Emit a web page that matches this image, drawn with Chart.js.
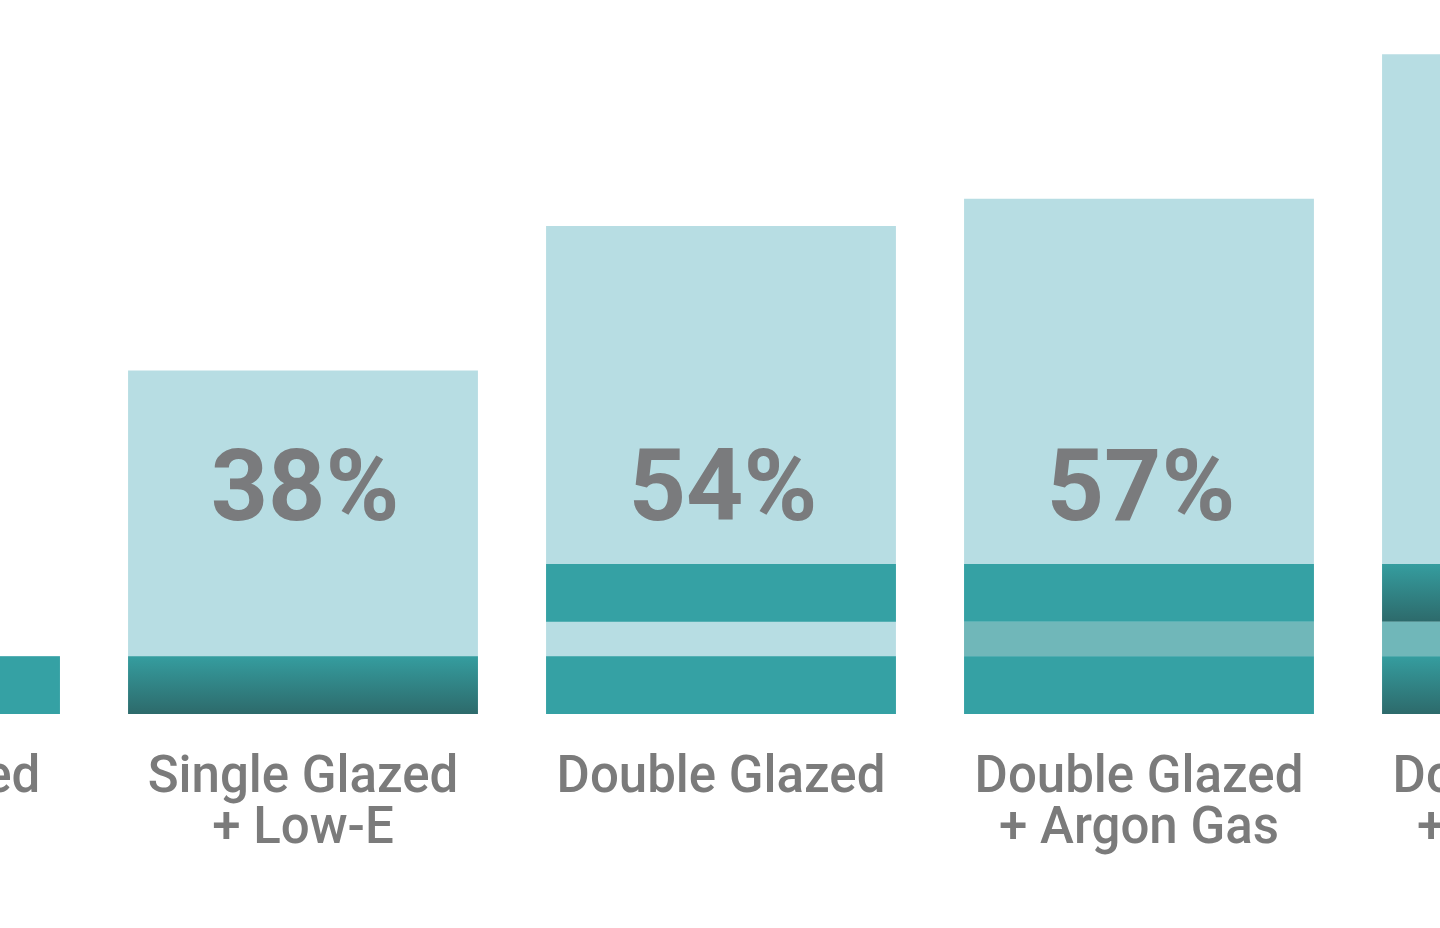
<!DOCTYPE html>
<html>
<head>
<meta charset="utf-8">
<script src="https://cdn.jsdelivr.net/npm/chart.js@4.4.1/dist/chart.umd.min.js"></script>
<style>
    html, body { margin: 0; padding: 0; background: #fff; overflow: hidden; width: 1440px; height: 928px; }
    #chart { position: absolute; left: -324px; top: 0; }
</style>
</head>
<body>
<canvas id="chart" width="2090" height="928"></canvas>
<script>
// window types, left to right (first and last are cut off by the frame)
const labels = [
    ["Single Glazed"],
    ["Single Glazed", "+ Low-E"],
    ["Double Glazed"],
    ["Double Glazed", "+ Argon Gas"],
    ["Double Glazed", "+ Argon Gas", "+ Low-E"]
]
// energy saving, %
const savings = [6.4, 38, 54, 57, 73]
const savingLabels = ["", "38%", "54%", "57%", "73%"]
// glass layers drawn inside each bar (same units as savings)
const innerPane = [[0, 6.4], [0, 6.4], [0, 6.4], [0, 6.4], [0, 6.4]]
const gasGap = [null, null, null, [6.4, 10.2], [6.4, 10.2]]
const outerPane = [null, null, [10.2, 16.6], [10.2, 16.6], [10.2, 16.6]]
const lowE = [false, true, false, false, true]

const teal = "#35a1a4"

function paneColor(ctx) {
    const chart = ctx.chart
    if (!lowE[ctx.dataIndex] || !chart.chartArea || !ctx.raw) return teal
    const y = chart.scales.y
    const top = y.getPixelForValue(ctx.raw[1])
    const bottom = y.getPixelForValue(ctx.raw[0])
    const g = chart.ctx.createLinearGradient(0, top, 0, bottom)
    g.addColorStop(0, "#359d9f")
    g.addColorStop(1, "#2d6a6b")
    return g
}

const percentLabels = {
    id: "percentLabels",
    afterDatasetsDraw(chart) {
        const ctx = chart.ctx
        const x = chart.scales.x
        const y = chart.scales.y
        ctx.save()
        ctx.font = "bold 100px Roboto"
        ctx.fillStyle = "#7a7b7d"
        ctx.textAlign = "center"
        ctx.textBaseline = "alphabetic"
        for (let i = 0; i < savingLabels.length; i++) {
            ctx.fillText(savingLabels[i], x.getPixelForValue(i) + 2, y.getPixelForValue(21.5))
        }
        ctx.restore()
    }
}

const common = { grouped: false, barPercentage: 1, categoryPercentage: 0.837, borderWidth: 0 }

new Chart(document.getElementById("chart"), {
    type: "bar",
    data: {
        labels: labels,
        datasets: [
            { ...common, label: "Inner pane", data: innerPane, backgroundColor: paneColor, order: 1 },
            { ...common, label: "Argon gas", data: gasGap, backgroundColor: "#70b7b9", order: 1 },
            { ...common, label: "Outer pane", data: outerPane, backgroundColor: paneColor, order: 1 },
            { ...common, label: "Energy saving", data: savings, backgroundColor: "#b7dde3", order: 2 }
        ]
    },
    options: {
        responsive: false,
        animation: false,
        layout: { padding: 0 },
        plugins: {
            legend: { display: false },
            tooltip: { enabled: false },
            title: { display: false }
        },
        scales: {
            x: {
                grid: { display: false, drawTicks: false },
                border: { display: false },
                ticks: {
                    autoSkip: false,
                    maxRotation: 0,
                    padding: 40,
                    color: "#7b7b7b",
                    font: { family: "Roboto", size: 51, weight: "500", lineHeight: 1 }
                },
                afterFit(scale) { scale.height = 214 }
            },
            y: {
                display: false,
                min: 0,
                max: 79
            }
        }
    },
    plugins: [percentLabels]
})
</script>
</body>
</html>
